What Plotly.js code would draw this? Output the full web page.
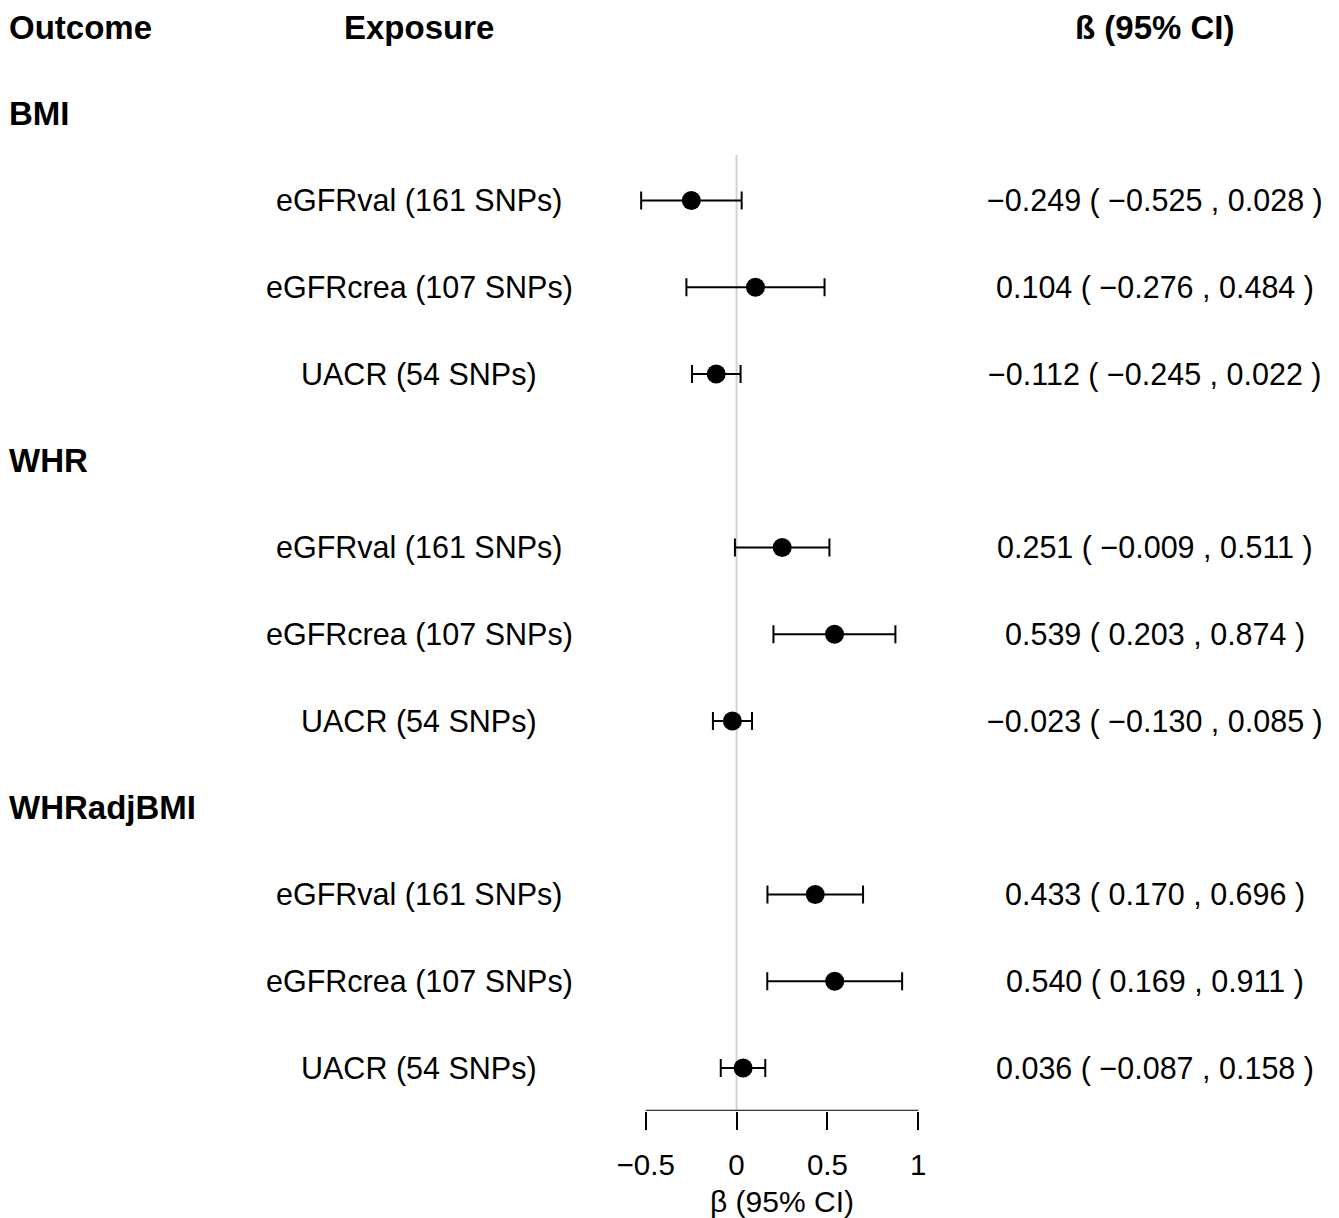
<!DOCTYPE html>
<html>
<head>
<meta charset="utf-8">
<script src="https://cdn.plot.ly/plotly-3.0.1.min.js"></script>
<style>html,body{margin:0;padding:0;background:#fff;}#chart{width:1339px;height:1218px;}</style>
</head>
<body>
<div id="chart"></div>
<script>
// ---- data ----
const outcomes = ["BMI", "WHR", "WHRadjBMI"];
const exposures = ["eGFRval (161 SNPs)", "eGFRcrea (107 SNPs)", "UACR (54 SNPs)"];
const beta = [
  [-0.249, 0.104, -0.112],
  [0.251, 0.539, -0.023],
  [0.433, 0.540, 0.036]
];
const ciLow = [
  [-0.525, -0.276, -0.245],
  [-0.009, 0.203, -0.130],
  [0.170, 0.169, -0.087]
];
const ciHigh = [
  [0.028, 0.484, 0.022],
  [0.511, 0.874, 0.085],
  [0.696, 0.911, 0.158]
];
const headers = ["Outcome", "Exposure", "ß (95% CI)"];
const tickVals = [-0.5, 0, 0.5, 1];
const tickText = ["\u22120.5", "0", "0.5", "1"];
const xTitle = "\u03b2 (95% CI)";

// ---- layout helpers ----
const W = 1339, H = 1218;
const FONT = "Liberation Sans, Arial, Helvetica, sans-serif";
const fmt = v => (v < 0 ? "\u2212" : "") + Math.abs(v).toFixed(3);

const xs = [], ys = [], ep = [], em = [];
const annotations = [];
const colOutcome = 7 / W, colExposure = 419 / W, colValue = 1155 / W;
const HB = 33, HR = 30.5;

const hdrFont = {family: FONT, size: HB, color: "#000"};
const rowFont = {family: FONT, size: HR, color: "#000"};

// header row (row 0)
annotations.push({x: colOutcome, y: 0, xref: "paper", yref: "y", text: "<b>" + headers[0] + "</b>", showarrow: false, xanchor: "left", yanchor: "middle", font: hdrFont});
annotations.push({x: colExposure, y: 0, xref: "paper", yref: "y", text: "<b>" + headers[1] + "</b>", showarrow: false, xanchor: "center", yanchor: "middle", font: hdrFont});
annotations.push({x: colValue, y: 0, xref: "paper", yref: "y", text: "<b>" + headers[2] + "</b>", showarrow: false, xanchor: "center", yanchor: "middle", font: hdrFont});

outcomes.forEach((o, g) => {
  const hdr = 1 + g * 4;
  annotations.push({x: colOutcome, y: hdr, xref: "paper", yref: "y", text: "<b>" + o + "</b>", showarrow: false, xanchor: "left", yanchor: "middle", font: hdrFont});
  exposures.forEach((e, j) => {
    const r = hdr + 1 + j;
    xs.push(beta[g][j]); ys.push(r);
    ep.push(ciHigh[g][j] - beta[g][j]);
    em.push(beta[g][j] - ciLow[g][j]);
    annotations.push({x: colExposure, y: r, xref: "paper", yref: "y", text: e, showarrow: false, xanchor: "center", yanchor: "middle", font: rowFont});
    annotations.push({x: colValue, y: r, xref: "paper", yref: "y", text: fmt(beta[g][j]) + " ( " + fmt(ciLow[g][j]) + " , " + fmt(ciHigh[g][j]) + " )", showarrow: false, xanchor: "center", yanchor: "middle", font: rowFont});
  });
});

// pixel geometry: row 0 at y=27, row spacing 86.75 px
const rowTop = 27, rowStep = 86.75, axisY = 1110.7;
const yBottom = (axisY - rowTop) / rowStep;
const yTop = (0 - rowTop) / rowStep;
const refTop = (155 - rowTop) / rowStep;
const pxPerUnit = (918.3 - 645.7) / 1.5;
const pad = 0.1;
const axMin = -0.5, axMax = 1;

const trace = {
  x: xs, y: ys, type: "scatter", mode: "markers",
  marker: {color: "#000", size: 19},
  error_x: {type: "data", symmetric: false, array: ep, arrayminus: em, color: "#000", thickness: 2, width: 9},
  hoverinfo: "skip", cliponaxis: false
};

const layout = {
  width: W, height: H,
  margin: {l: 0, r: 0, t: 0, b: 0},
  paper_bgcolor: "#fff", plot_bgcolor: "#fff",
  showlegend: false,
  xaxis: {
    domain: [(645.7 - pad * pxPerUnit) / W, (918.3 + pad * pxPerUnit) / W],
    range: [axMin - pad, axMax + pad],
    showgrid: false, zeroline: false,
    showline: false,
    ticks: "outside", ticklen: 18, tickwidth: 2, tickcolor: "#000",
    tickvals: tickVals, ticktext: tickText,
    ticklabelstandoff: 10,
    tickfont: {family: FONT, size: 29.5, color: "#000"},
    title: {text: xTitle, font: {family: FONT, size: 30, color: "#000"}, standoff: 11},
    fixedrange: true
  },
  yaxis: {
    domain: [(H - axisY) / H, 1],
    range: [yBottom, yTop],
    visible: false, showgrid: false, zeroline: false, fixedrange: true
  },
  shapes: [
    {type: "line", xref: "x", yref: "y", x0: 0, x1: 0, y0: refTop, y1: yBottom,
     line: {color: "#d3d3d3", width: 2}, layer: "below"},
    {type: "line", xref: "x", yref: "y", x0: axMin, x1: axMax, y0: yBottom, y1: yBottom,
     line: {color: "#000", width: 2}, layer: "above"}
  ],
  annotations: annotations
};

Plotly.newPlot("chart", [trace], layout, {staticPlot: true, displayModeBar: false});
</script>
</body>
</html>
